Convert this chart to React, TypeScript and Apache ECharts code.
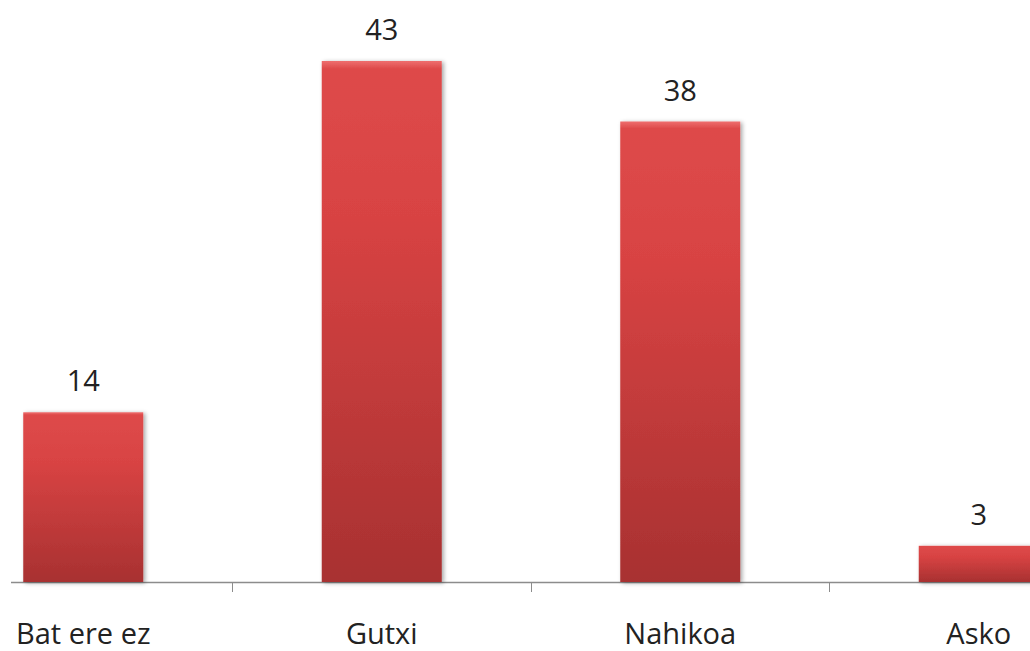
import React, { useEffect, useRef } from "react";
import * as echarts from "echarts";

const categories = ["Bat ere ez", "Gutxi", "Nahikoa", "Asko"];
const values = [14, 43, 38, 3];

export default function App() {
  const ref = useRef<HTMLDivElement>(null);
  useEffect(() => {
    document.body.style.margin = "0";
    document.body.style.overflow = "hidden";
    if (!ref.current) return;
    const chart = echarts.init(ref.current, null, { renderer: "svg" });
    const font = "'Open Sans', 'Noto Sans', sans-serif";
    chart.setOption({
      animation: false,
      backgroundColor: "#ffffff",
      grid: { left: 0, right: 0, top: 61, bottom: 69, containLabel: false },
      xAxis: {
        type: "category",
        data: categories,
        axisLine: { show: false },
        axisTick: { show: true, length: 10, lineStyle: { color: "#8c8c8c", width: 1 } },
        axisLabel: { color: "#222", fontSize: 29, fontFamily: font, margin: 36 },
      },
      yAxis: {
        type: "value",
        min: 0,
        max: 43,
        show: false,
        splitLine: { show: false },
      },
      graphic: [
        {
          type: "line",
          shape: { x1: 77, y1: 582.5, x2: 1194, y2: 582.5 },
          style: { stroke: "#8c8c8c", lineWidth: 1.5 },
          z: 1,
        },
      ],
      series: [
        {
          type: "bar",
          data: values,
          barWidth: 120,
          z: 3,
          itemStyle: {
            color: new echarts.graphic.LinearGradient(0, 0, 0, 1, [
              { offset: 0, color: "#ee6e6e" },
              { offset: 0.015, color: "#de4a4a" },
              { offset: 0.3, color: "#d84343" },
              { offset: 1, color: "#a83131" },
            ]),
            shadowBlur: 4,
            shadowColor: "rgba(0,0,0,0.35)",
            shadowOffsetX: 2,
            shadowOffsetY: 1,
          },
          label: {
            show: true,
            position: "top",
            distance: 18,
            color: "#222",
            fontSize: 29,
            fontFamily: font,
          },
        },
      ],
    });
    return () => chart.dispose();
  }, []);
  return (
    <div
      ref={ref}
      style={{ position: "fixed", left: -66, top: 0, width: 1194, height: 651, background: "#fff" }}
    />
  );
}
